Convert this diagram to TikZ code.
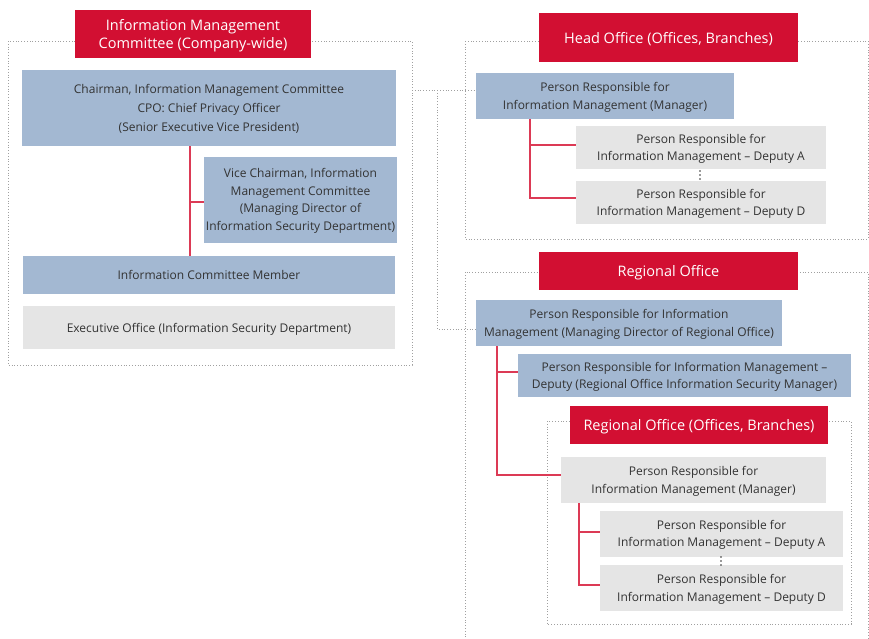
\documentclass[tikz,border=0pt]{standalone}
\usepackage{fontspec}
\setmainfont{Open Sans}
\definecolor{hdred}{HTML}{D20F32}
\definecolor{lnred}{HTML}{DC3A55}
\definecolor{boxblue}{HTML}{A3B8D2}
\definecolor{boxgray}{HTML}{E5E5E5}
\definecolor{txtgray}{HTML}{333333}
\definecolor{frmgray}{HTML}{A0A0A0}
\tikzset{
  base/.style={inner sep=0pt, align=center, text=txtgray, text depth=0pt,
    font=\fontsize{12}{17.5}\selectfont},
  bluebox/.style={base, fill=boxblue},
  graybox/.style={base, fill=boxgray},
  titlebox/.style={inner sep=0pt, align=center, fill=hdred, text=white,
    text depth=0pt, font=\fontsize{14.5}{18}\selectfont},
  frame/.style={draw=frmgray, dotted, line width=0.8pt},
  dotline/.style={draw=frmgray, dotted, line width=0.8pt},
  redline/.style={draw=lnred, line width=1.2pt},
  size/.style 2 args={minimum width=#1, minimum height=#2},
  ellipsisdot/.style={fill=txtgray, draw=none},
}
\newcommand{\vdotsat}[2]{%
  \foreach \k in {-4,0,4} {\fill[ellipsisdot] (#1,#2+\k) circle (0.9);}}
\begin{document}
\begin{tikzpicture}[x=1pt,y=-1pt]
\useasboundingbox (0,0) rectangle (869,638);

% dotted group frames
\draw[frame] (8,41) rectangle (412,365);
\coordinate (frameL) at (412,90);
\draw[frame] (465,41) rectangle (868,239);
\draw[frame] (465,640) -- (465,272) -- (868,272) -- (868,640);
\draw[frame] (547,421) rectangle (851,624);

% company-wide committee
\node[titlebox, size={236}{48}] (ttlL) at (193,34) {Information Management\\Committee (Company-wide)};
\node[bluebox, size={374}{76}, font=\fontsize{12}{19.3}\selectfont] (chair) at (209,108)
  {Chairman, Information Management Committee\\CPO: Chief Privacy Officer\\(Senior Executive Vice President)};
\node[bluebox, size={193}{86}] (vice) at (300.5,199.5)
  {Vice Chairman, Information\\Management Committee\\(Managing Director of\\Information Security Department)};
\node[bluebox, size={372}{38}] (member) at (209,275) {Information Committee Member};
\node[graybox, size={372}{43}] (exec) at (209,327.5) {Executive Office (Information Security Department)};

\coordinate (jL) at (190,202);
\draw[redline] (chair.south -| jL) -- (member.north -| jL);
\draw[redline] (jL) -- (vice.west |- jL);

% head office
\node[titlebox, size={259}{49}] (ttlH) at (668.5,37.5) {Head Office (Offices, Branches)};
\node[bluebox, size={258}{46}] (hmgr) at (605,96) {Person Responsible for\\Information Management (Manager)};
\node[graybox, size={250}{43}] (hA) at (701,147.5) {Person Responsible for\\Information Management -- Deputy A};
\node[graybox, size={250}{43}] (hD) at (701,202.5) {Person Responsible for\\Information Management -- Deputy D};
\vdotsat{700}{175}

\coordinate (jHa) at (530,145);
\coordinate (jHd) at (530,198);
\draw[redline] (hmgr.south -| jHa) -- (jHd) -- (hD.west |- jHd);
\draw[redline] (jHa) -- (hA.west |- jHa);

% regional office
\node[titlebox, size={259}{38}] (ttlR) at (668.5,271) {Regional Office};
\node[bluebox, size={306}{46}] (rmgr) at (629,323) {Person Responsible for Information\\Management (Managing Director of Regional Office)};
\node[bluebox, size={333}{43}] (rdep) at (684.5,375.5) {Person Responsible for Information Management --\\Deputy (Regional Office Information Security Manager)};

% regional office branches
\node[titlebox, size={258}{38}] (ttlB) at (699,425) {Regional Office (Offices, Branches)};
\node[graybox, size={265}{46}] (gmgr) at (693.5,480) {Person Responsible for\\Information Management (Manager)};
\node[graybox, size={243}{46}] (gA) at (721.5,533.5) {Person Responsible for\\Information Management -- Deputy A};
\node[graybox, size={243}{46}] (gD) at (721.5,588) {Person Responsible for\\Information Management -- Deputy D};
\vdotsat{721}{561}

\coordinate (jRd) at (497,372);
\coordinate (jRm) at (497,475);
\draw[redline] (rmgr.south -| jRd) -- (jRm) -- (gmgr.west |- jRm);
\draw[redline] (jRd) -- (rdep.west |- jRd);

\coordinate (jGa) at (579,532);
\coordinate (jGd) at (579,585);
\draw[redline] (gmgr.south -| jGa) -- (jGd) -- (gD.west |- jGd);
\draw[redline] (jGa) -- (gA.west |- jGa);

% reporting lines from the committee to the offices
\coordinate (jT) at (437,90);
\coordinate (jB) at (437,329);
\draw[dotline] (frameL) -- (hmgr.west |- frameL);
\draw[dotline] (jT) -- (jB) -- (rmgr.west |- jB);
\end{tikzpicture}
\end{document}
